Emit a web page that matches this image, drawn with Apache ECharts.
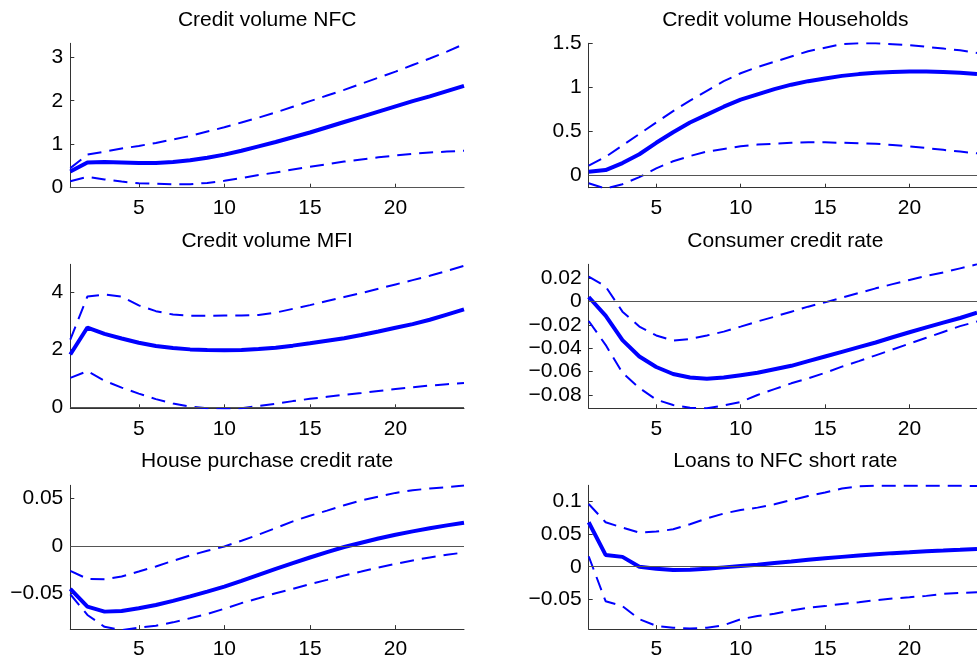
<!DOCTYPE html>
<html>
<head>
<meta charset="utf-8">
<script src="https://cdn.jsdelivr.net/npm/echarts@6/dist/echarts.min.js"></script>
<style>
html,body{margin:0;padding:0;background:#fff;}
#chart{width:977px;height:663px;}
</style>
</head>
<body>
<div id="chart"></div>
<script>
// ---- data ----
const periods = [1,2,3,4,5,6,7,8,9,10,11,12,13,14,15,16,17,18,19,20,21,22,23,24];
const xTicks = [5,10,15,20];

const titles = ["Credit volume NFC","Credit volume Households","Credit volume MFI","Consumer credit rate","House purchase credit rate","Loans to NFC short rate"];

const nfcMid = [0.37,0.58,0.59,0.58,0.57,0.57,0.59,0.63,0.69,0.76,0.85,0.95,1.05,1.16,1.27,1.39,1.51,1.63,1.75,1.87,1.99,2.10,2.22,2.34];
const nfcUp  = [0.45,0.76,0.83,0.90,0.96,1.03,1.11,1.19,1.29,1.39,1.50,1.61,1.73,1.86,1.99,2.12,2.25,2.39,2.53,2.67,2.82,2.97,3.13,3.30];
const nfcLo  = [0.15,0.25,0.19,0.14,0.10,0.09,0.08,0.08,0.11,0.16,0.22,0.29,0.35,0.42,0.48,0.54,0.60,0.65,0.70,0.74,0.78,0.81,0.83,0.85];

const hhMid = [0.04,0.06,0.14,0.24,0.37,0.49,0.60,0.69,0.78,0.86,0.92,0.98,1.03,1.07,1.10,1.13,1.15,1.165,1.175,1.18,1.18,1.175,1.165,1.15];
const hhUp  = [0.11,0.21,0.34,0.47,0.60,0.73,0.85,0.96,1.07,1.16,1.23,1.29,1.35,1.41,1.45,1.49,1.50,1.50,1.49,1.48,1.46,1.44,1.42,1.39];
const hhLo  = [-0.09,-0.15,-0.10,-0.02,0.08,0.16,0.22,0.27,0.30,0.33,0.35,0.36,0.37,0.375,0.375,0.37,0.365,0.36,0.345,0.33,0.31,0.29,0.27,0.25];

const mfiMid = [1.83,2.77,2.55,2.39,2.24,2.13,2.06,2.01,1.99,1.98,1.99,2.02,2.07,2.14,2.22,2.31,2.40,2.51,2.63,2.76,2.89,3.04,3.22,3.40];
const mfiUp  = [2.35,3.85,3.92,3.85,3.54,3.34,3.22,3.18,3.18,3.19,3.19,3.21,3.29,3.42,3.55,3.69,3.83,3.97,4.12,4.27,4.42,4.57,4.74,4.92];
const mfiLo  = [1.02,1.25,0.92,0.68,0.47,0.28,0.13,0.02,-0.04,-0.06,-0.04,0.04,0.12,0.21,0.29,0.36,0.43,0.49,0.56,0.63,0.69,0.75,0.80,0.84];

const ccMid = [0.004,-0.012,-0.033,-0.047,-0.056,-0.062,-0.065,-0.066,-0.065,-0.063,-0.061,-0.058,-0.055,-0.051,-0.047,-0.043,-0.039,-0.035,-0.0305,-0.0262,-0.022,-0.018,-0.014,-0.0095];
const ccUp  = [0.0214,0.013,-0.0086,-0.0214,-0.029,-0.0334,-0.032,-0.029,-0.0257,-0.0214,-0.017,-0.0129,-0.0086,-0.0043,-0.0006,0.0034,0.0074,0.0114,0.015,0.0186,0.022,0.025,0.0285,0.032];
const ccLo  = [-0.0166,-0.037,-0.061,-0.074,-0.084,-0.0886,-0.091,-0.0914,-0.089,-0.086,-0.08,-0.075,-0.070,-0.0657,-0.061,-0.0557,-0.051,-0.046,-0.041,-0.036,-0.031,-0.026,-0.021,-0.017];

const hpMid = [-0.045,-0.0637,-0.069,-0.0683,-0.0655,-0.062,-0.0577,-0.053,-0.0479,-0.0426,-0.0366,-0.0303,-0.024,-0.018,-0.012,-0.0063,-0.001,0.0035,0.008,0.012,0.0155,0.0187,0.0218,0.0246];
const hpUp  = [-0.026,-0.0345,-0.0349,-0.032,-0.0268,-0.0215,-0.0155,-0.0099,-0.0049,-0.0004,0.0056,0.012,0.019,0.026,0.032,0.0373,0.043,0.048,0.052,0.056,0.0588,0.0606,0.062,0.0637];
const hpLo  = [-0.0507,-0.0725,-0.085,-0.0884,-0.086,-0.0838,-0.0803,-0.076,-0.0715,-0.066,-0.060,-0.055,-0.0496,-0.045,-0.040,-0.0356,-0.031,-0.0268,-0.0225,-0.0187,-0.0151,-0.012,-0.0092,-0.0067];

const lnMid = [0.0677,0.018,0.015,0.0,-0.003,-0.005,-0.0045,-0.003,-0.001,0.001,0.003,0.0056,0.008,0.0106,0.013,0.015,0.017,0.019,0.0207,0.022,0.0237,0.0247,0.0258,0.027];
const lnUp  = [0.0955,0.0677,0.0596,0.052,0.0535,0.057,0.0646,0.0737,0.081,0.0864,0.09,0.095,0.1015,0.1076,0.113,0.119,0.1227,0.1232,0.1232,0.1232,0.1232,0.1232,0.1232,0.1230];
const lnLo  = [0.0157,-0.0525,-0.060,-0.080,-0.090,-0.093,-0.094,-0.093,-0.089,-0.080,-0.075,-0.0717,-0.0667,-0.0626,-0.060,-0.0566,-0.054,-0.051,-0.0485,-0.0465,-0.0444,-0.0414,-0.040,-0.039];

const yTicks = [[0,1,2,3],[0,0.5,1,1.5],[0,2,4],[-0.08,-0.06,-0.04,-0.02,0,0.02],[-0.05,0,0.05],[-0.05,0,0.05,0.1]];
const yRanges = [[0,3.32],[-0.14,1.5],[-0.04,4.97],[-0.0914,0.032],[-0.0874,0.064],[-0.095,0.124]];

const panels = [
  [nfcMid,nfcUp,nfcLo],[hhMid,hhUp,hhLo],[mfiMid,mfiUp,mfiLo],
  [ccMid,ccUp,ccLo],[hpMid,hpUp,hpLo],[lnMid,lnUp,lnLo]
];

// ---- layout ----
const colLeft = [70.3, 588.7];
const colWidth = [393.7, 393.3];
const rowTop = [43.3, 264.3, 485.3];
const rowHeight = [144.4, 144, 143.8];
const titleY = [20, 241, 461];

const FONT = '"Liberation Sans", Arial, Helvetica, sans-serif';
const BLUE = '#0000ff';
const fmt = v => String(v).replace('-', '\u2212');

const grids = [], xAxes = [], yAxes = [], series = [], graphics = [];
for (let i = 0; i < 6; i++) {
  const r = Math.floor(i / 2), c = i % 2;
  grids.push({left: colLeft[c], top: rowTop[r], width: colWidth[c], height: rowHeight[r], containLabel: false});
  xAxes.push({
    type: 'value', gridIndex: i, min: 1, max: 24,
    axisLine: {show: true, onZero: false, lineStyle: {color: '#333', width: 1}},
    axisTick: {show: true, inside: true, length: 4, customValues: xTicks, lineStyle: {color: '#333'}},
    axisLabel: {show: true, customValues: xTicks, margin: 10, fontSize: 21, fontFamily: FONT, color: '#000'},
    splitLine: {show: false}
  });
  yAxes.push({
    type: 'value', gridIndex: i, min: yRanges[i][0], max: yRanges[i][1],
    axisLine: {show: true, onZero: false, lineStyle: {color: '#333', width: 1}},
    axisTick: {show: true, inside: true, length: 4, customValues: yTicks[i], lineStyle: {color: '#333'}},
    axisLabel: {show: true, customValues: yTicks[i], margin: 7, fontSize: 21, fontFamily: FONT, color: '#000', formatter: fmt},
    splitLine: {show: false}
  });
  const [mid, up, lo] = panels[i];
  const toData = arr => periods.map((p, k) => [p, arr[k]]);
  series.push({
    type: 'line', xAxisIndex: i, yAxisIndex: i, data: toData(mid), showSymbol: false, symbol: 'none',
    lineStyle: {color: BLUE, width: 4}, z: 4, animation: false, clip: true,
    markLine: {silent: true, symbol: 'none', animation: false, label: {show: false},
      lineStyle: {color: '#555', width: 1, type: 'solid'}, data: [{yAxis: 0}]}
  });
  [up, lo].forEach(arr => series.push({
    type: 'line', xAxisIndex: i, yAxisIndex: i, data: toData(arr), showSymbol: false, symbol: 'none',
    lineStyle: {color: BLUE, width: 2, type: [14, 8]}, z: 3, animation: false, clip: true
  }));
  graphics.push({
    type: 'text', x: colLeft[c] + colWidth[c] / 2, y: titleY[r],
    style: {text: titles[i], fill: '#000', font: '21px ' + FONT, align: 'center', verticalAlign: 'middle'}
  });
}

const chart = echarts.init(document.getElementById('chart'), null, {renderer: 'canvas'});
chart.setOption({
  animation: false,
  backgroundColor: '#fff',
  grid: grids, xAxis: xAxes, yAxis: yAxes, series: series, graphic: graphics
});
</script>
</body>
</html>
